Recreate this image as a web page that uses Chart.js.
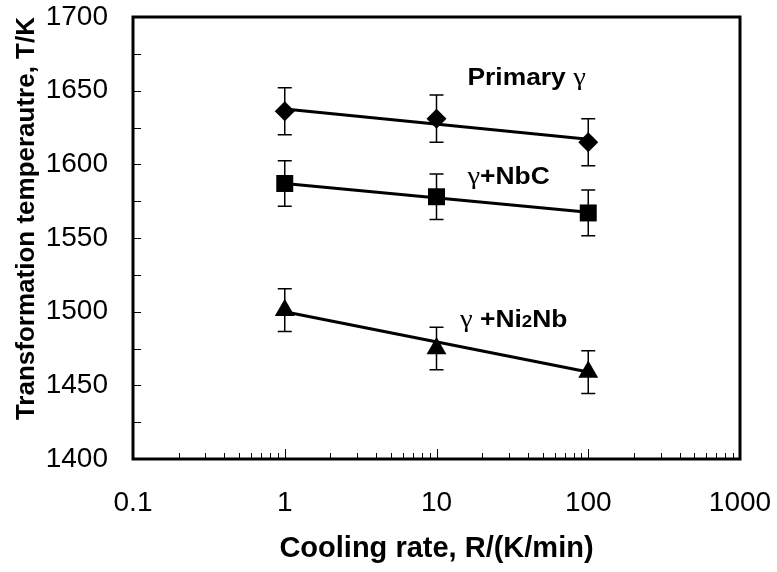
<!DOCTYPE html>
<html>
<head>
<meta charset="utf-8">
<script src="https://cdn.jsdelivr.net/npm/chart.js@4.4.0/dist/chart.umd.min.js"></script>
<style>
html, body { margin: 0; padding: 0; background: #fff; }
</style>
</head>
<body>
<canvas id="chart" width="777" height="572"></canvas>
<script>
// cooling rates (K/min)
const rates = [1, 10, 100];

// measured transformation temperatures and their error bars
const primary = [1636, 1631, 1615];
const primaryErr = [16, 16, 16];
const nbc = [1587, 1578, 1567];
const nbcErr = [15.5, 15.5, 15.5];
const ni2nb = [1501, 1475, 1459];
const ni2nbErr = [14.5, 14.5, 14.5];

const fitX = [1, 100];
const primaryFit = [1637.5, 1617];
const nbcFit = [1587, 1567.5];
const ni2nbFit = [1500, 1459];

// axis ticks
const xTickValues = [0.1, 1, 10, 100, 1000];
const yTickValues = [1400, 1450, 1500, 1550, 1600, 1650, 1700];

// series labels written inside the plot
const labelParts = [
    [['Primary ', 'b'], ['γ', 'g']],
    [['γ', 'g'], ['+NbC', 'b']],
    [['γ', 'g'], [' +Ni', 'b'], ['2', 's'], ['Nb', 'b']],
];
const labelX = [16, 16, 14.3];
const labelY = [1654, 1586.5, 1489.6];

const errorSeries = [
    { vals: primary, errs: primaryErr },
    { vals: nbc, errs: nbcErr },
    { vals: ni2nb, errs: ni2nbErr },
];

const pts = (xs, ys) => xs.map((x, i) => ({ x: x, y: ys[i] }));

const errorBars = {
    id: 'errorBars',
    beforeDatasetsDraw(chart) {
        const { ctx, scales: { x, y } } = chart;
        ctx.save();
        ctx.strokeStyle = '#000';
        ctx.lineWidth = 1.5;
        errorSeries.forEach(s => {
            rates.forEach((r, i) => {
                const px = x.getPixelForValue(r);
                const top = y.getPixelForValue(s.vals[i] + s.errs[i]);
                const bot = y.getPixelForValue(s.vals[i] - s.errs[i]);
                ctx.beginPath();
                ctx.moveTo(px, top); ctx.lineTo(px, bot);
                ctx.moveTo(px - 7, top); ctx.lineTo(px + 7, top);
                ctx.moveTo(px - 7, bot); ctx.lineTo(px + 7, bot);
                ctx.stroke();
            });
        });
        ctx.restore();
    },
};

const frameAndLabels = {
    id: 'frameAndLabels',
    afterDraw(chart) {
        const { ctx, chartArea: a, scales: { x, y } } = chart;
        ctx.save();
        ctx.strokeStyle = '#000';

        // inside ticks
        ctx.lineWidth = 1;
        ctx.beginPath();
        for (let v = 1425; v < 1700; v += 25) {
            const py = Math.round(y.getPixelForValue(v)) + 0.5;
            ctx.moveTo(a.left, py); ctx.lineTo(a.left + 8, py);
        }
        [0.1, 1, 10, 100].forEach(d => {
            for (let k = 2; k <= 9; k++) {
                const px = Math.round(x.getPixelForValue(k * d)) + 0.5;
                ctx.moveTo(px, a.bottom); ctx.lineTo(px, a.bottom - 6);
            }
        });
        [1, 10, 100].forEach(v => {
            const px = Math.round(x.getPixelForValue(v)) + 0.5;
            ctx.moveTo(px, a.bottom); ctx.lineTo(px, a.bottom - 10);
        });
        ctx.stroke();

        // plot frame
        ctx.lineWidth = 3;
        ctx.strokeRect(a.left, a.top, a.right - a.left, a.bottom - a.top);

        // series labels
        ctx.fillStyle = '#000';
        ctx.textBaseline = 'alphabetic';
        const fonts = {
            b: 'bold 24px "Liberation Sans"',
            g: '26px "Liberation Serif"',
            s: 'bold 17px "Liberation Sans"',
        };
        labelParts.forEach((parts, i) => {
            ctx.save();
            ctx.translate(x.getPixelForValue(labelX[i]), y.getPixelForValue(labelY[i]));
            ctx.scale(1.1, 1);
            let cx = 0;
            parts.forEach(([text, style]) => {
                ctx.font = fonts[style];
                ctx.fillText(text, cx, 0);
                cx += ctx.measureText(text).width;
            });
            ctx.restore();
        });
        ctx.restore();
    },
};

new Chart(document.getElementById('chart'), {
    type: 'scatter',
    data: {
        datasets: [
            { label: 'Primary γ', data: pts(rates, primary), pointStyle: 'rectRot', pointRadius: 10,
              backgroundColor: '#000', borderColor: '#000', borderWidth: 0, showLine: false },
            { label: 'γ+NbC', data: pts(rates, nbc), pointStyle: 'rect', pointRadius: 12,
              backgroundColor: '#000', borderColor: '#000', borderWidth: 0, showLine: false },
            { label: 'γ+Ni2Nb', data: pts(rates, ni2nb), pointStyle: 'triangle', pointRadius: 11.5,
              backgroundColor: '#000', borderColor: '#000', borderWidth: 0, showLine: false },
            { label: 'fit 1', data: pts(fitX, primaryFit), showLine: true, pointRadius: 0,
              borderColor: '#000', borderWidth: 3 },
            { label: 'fit 2', data: pts(fitX, nbcFit), showLine: true, pointRadius: 0,
              borderColor: '#000', borderWidth: 3 },
            { label: 'fit 3', data: pts(fitX, ni2nbFit), showLine: true, pointRadius: 0,
              borderColor: '#000', borderWidth: 3 },
        ],
    },
    options: {
        responsive: false,
        animation: false,
        devicePixelRatio: 1,
        layout: { padding: { top: 17, right: 37, left: 0, bottom: 0 } },
        plugins: {
            legend: { display: false },
            tooltip: { enabled: false },
        },
        scales: {
            x: {
                type: 'logarithmic',
                min: 0.1,
                max: 1000,
                afterBuildTicks: (scale) => { scale.ticks = xTickValues.map(v => ({ value: v })); },
                afterFit: (scale) => {
                    scale.height = 113;
                    scale.paddingLeft = 0;
                    scale.paddingRight = 0;
                },
                grid: { display: false },
                border: { display: false },
                ticks: {
                    autoSkip: false,
                    maxRotation: 0,
                    padding: 19,
                    color: '#000',
                    font: { family: 'Liberation Sans', size: 28 },
                    callback: (v) => String(v),
                },
                title: {
                    display: true,
                    text: 'Cooling rate, R/(K/min)',
                    color: '#000',
                    padding: { top: 0, bottom: 6 },
                    font: { family: 'Liberation Sans', size: 29, weight: 'bold' },
                },
            },
            y: {
                min: 1400,
                max: 1700,
                afterBuildTicks: (scale) => { scale.ticks = yTickValues.map(v => ({ value: v })); },
                afterFit: (scale) => {
                    scale.width = 133;
                    scale.paddingTop = 0;
                    scale.paddingBottom = 0;
                },
                grid: { display: false },
                border: { display: false },
                ticks: {
                    padding: 17,
                    color: '#000',
                    font: { family: 'Liberation Sans', size: 28 },
                    callback: (v) => String(v),
                },
                title: {
                    display: true,
                    text: 'Transformation temperautre, T/K',
                    color: '#000',
                    align: 'end',
                    padding: { top: 11, bottom: 0 },
                    font: { family: 'Liberation Sans', size: 26, weight: 'bold' },
                },
            },
        },
    },
    plugins: [errorBars, frameAndLabels],
});
</script>
</body>
</html>
